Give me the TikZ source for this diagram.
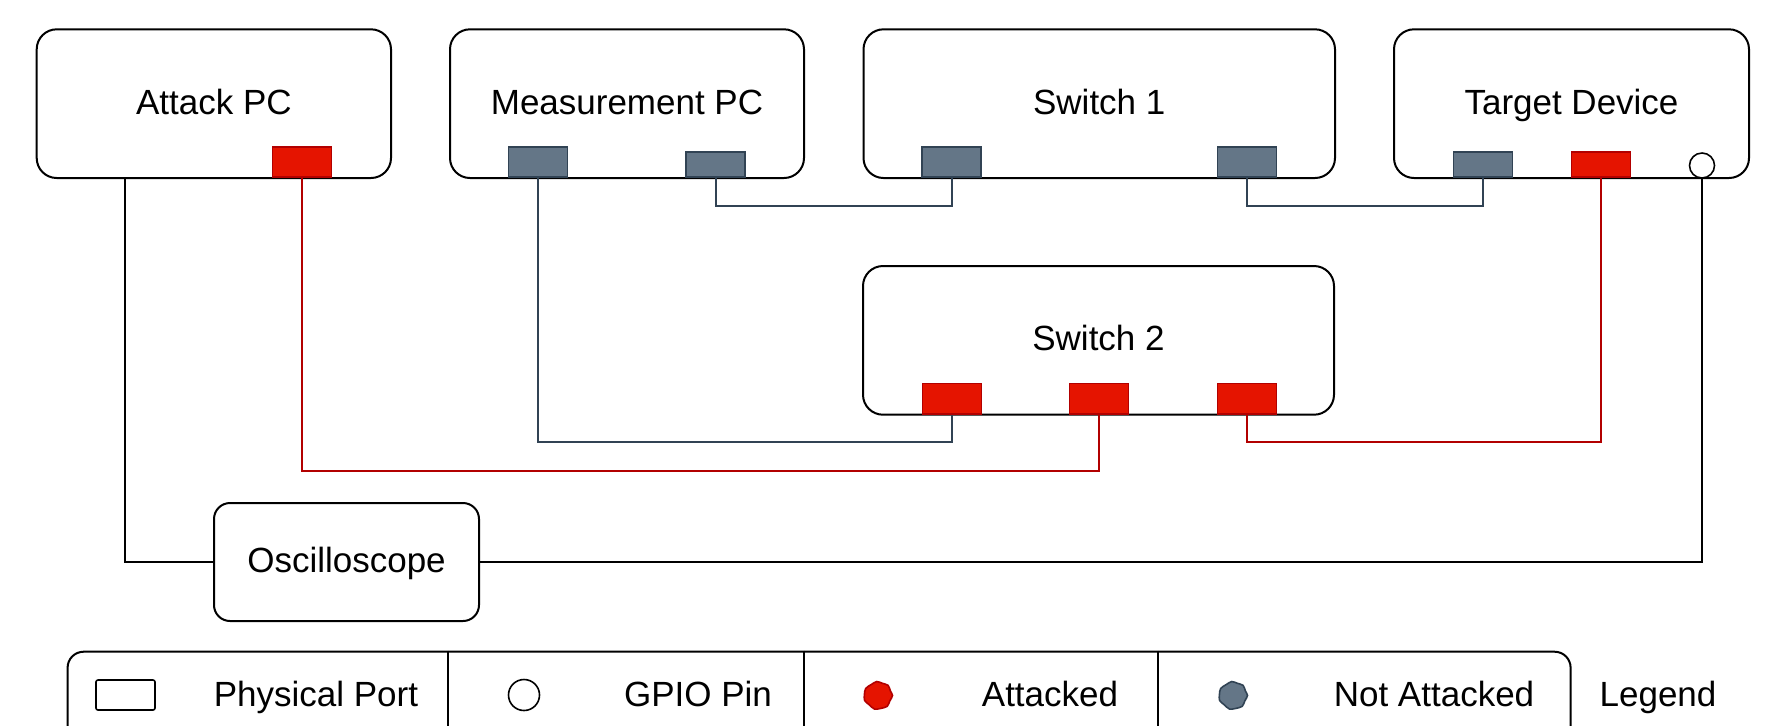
\documentclass[tikz,border=0pt]{standalone}
\usepackage{fontspec}
\setmainfont{Liberation Sans}
\usetikzlibrary{calc}
\definecolor{portred}{HTML}{E51400}
\definecolor{portredd}{HTML}{B20000}
\definecolor{portgray}{HTML}{647687}
\definecolor{portgrayd}{HTML}{314354}
\begin{document}
\begin{tikzpicture}[x=0.5pt,y=-0.5pt,
  txt/.style={font=\fontsize{17.5}{21}\selectfont, inner sep=0pt},
  box/.style={txt, text height=12.5pt, text depth=1.9pt, draw=black, line width=1pt, rounded corners=10pt, fill=white, minimum height=74.35pt},
  port/.style={line width=0.8pt, minimum width=29.5pt, inner sep=0pt, anchor=south},
  tall/.style={minimum height=15.15pt},
  short/.style={minimum height=12.65pt},
  redp/.style={fill=portred, draw=portredd},
  grayp/.style={fill=portgray, draw=portgrayd},
  redw/.style={draw=portredd, line width=1pt},
  grayw/.style={draw=portgrayd, line width=1pt},
  blackw/.style={draw=black, line width=1pt},
  blob/.style={line width=0.8pt},
]
\fill[white] (0,0) rectangle (1776,725);
\useasboundingbox (0,0) rectangle (1776,725);

% boxes
\node[box, minimum width=177.15pt] (attack) at (213.85,103.65) {Attack PC};
\node[box, minimum width=177pt] (meas) at (627,103.65) {Measurement PC};
\node[box, minimum width=235.75pt] (sw1) at (1099.25,103.65) {Switch 1};
\node[box, minimum width=177.5pt] (target) at (1571.5,103.65) {Target Device};
\node[box, minimum width=235.5pt] (sw2) at (1098.5,340.35) {Switch 2};
\node[box, minimum width=132.5pt, minimum height=59pt, rounded corners=8pt] (osc) at (346.5,562) {Oscilloscope};

% ports
\node[port, tall, redp] (ap) at (302,178) {};
\node[port, tall, grayp] (mp1) at (538,178) {};
\node[port, short, grayp] (mp2) at (715.5,178) {};
\node[port, tall, grayp] (s1p1) at (951.5,178) {};
\node[port, tall, grayp] (s1p2) at (1247,178) {};
\node[port, short, grayp] (td1) at (1483,178) {};
\node[port, short, redp] (td2) at (1601,178) {};
\node[draw, circle, line width=0.8pt, minimum size=12.5pt, inner sep=0pt, fill=white] (gpio) at (1702,165.5) {};
\node[port, tall, redp] (s2p1) at (952,414.7) {};
\node[port, tall, redp] (s2p2) at (1099,414.7) {};
\node[port, tall, redp] (s2p3) at (1247,414.7) {};

% bus levels
\coordinate (bus0) at (0,205.7);
\coordinate (bus1) at (0,442);
\coordinate (bus2) at (0,471.3);
\coordinate (apcout) at (125,178);

% connectors
\draw[grayw] (mp2.south) |- (s1p1.south |- bus0) -- (s1p1.south);
\draw[grayw] (s1p2.south) |- (td1.south |- bus0) -- (td1.south);
\draw[grayw] (mp1.south) |- (s2p1.south |- bus1) -- (s2p1.south);
\draw[redw] (ap.south) |- (s2p2.south |- bus2) -- (s2p2.south);
\draw[redw] (s2p3.south) |- (td2.south |- bus1) -- (td2.south);
\draw[blackw] (apcout) |- (osc.west);
\draw[blackw] (osc.east) -| (gpio.south);

% legend
\node[draw, line width=1pt, rounded corners=8pt, minimum width=751.5pt, minimum height=70pt, inner sep=0pt, anchor=north west] (legend) at (66.6,650.7) {};
\draw[line width=1pt] (447.8,650.7) -- (447.8,800);
\draw[line width=1pt] (803.7,650.7) -- (803.7,800);
\draw[line width=1pt] (1158.3,650.7) -- (1158.3,800);

\node[draw, line width=0.8pt, rounded corners=1pt, minimum width=29.5pt, minimum height=15pt, inner sep=0pt] (lport) at (125.5,695) {};
\node[draw, circle, line width=0.8pt, minimum size=15.5pt, inner sep=0pt] (lgpio) at (524,695) {};
\begin{scope}[shift={(878,695.5)}]
\filldraw[blob, fill=portred, draw=portredd] plot[smooth cycle] coordinates {(0:14.5) (25:13) (50:14.2) (80:13.2) (105:14) (135:12.8) (160:14.3) (185:13.6) (210:14.2) (240:12.9) (265:14) (290:13) (315:14.3) (340:13.2)};
\end{scope}
\begin{scope}[shift={(1233,695.5)}]
\filldraw[blob, fill=portgray, draw=portgrayd] plot[smooth cycle] coordinates {(0:14.5) (25:13) (50:14.2) (80:13.2) (105:14) (135:12.8) (160:14.3) (185:13.6) (210:14.2) (240:12.9) (265:14) (290:13) (315:14.3) (340:13.2)};
\end{scope}

\node[txt, anchor=base] (t1) at (316,706) {Physical Port};
\node[txt, anchor=base] (t2) at (698,706) {GPIO Pin};
\node[txt, anchor=base] (t3) at (1050,706) {Attacked};
\node[txt, anchor=base] (t4) at (1434,706) {Not Attacked};
\node[txt, anchor=base] (t5) at (1658,706) {Legend};
\end{tikzpicture}
\end{document}
